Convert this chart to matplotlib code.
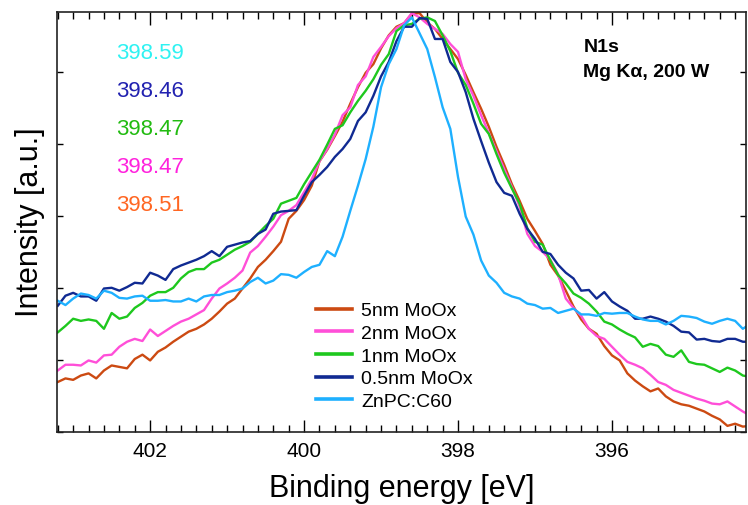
import numpy as np
import matplotlib
matplotlib.use("Agg")
import matplotlib.pyplot as plt
from matplotlib.ticker import MultipleLocator

plt.rcParams["font.family"] = ["Liberation Sans", "DejaVu Sans"]

# ================= DATA =================
# binding energy grid, 403.2 -> 394.2 eV in 0.1 eV steps
energy = np.round(np.arange(403.2, 394.15, -0.1), 2)

moox_5nm = [
    0.69, 0.74, 0.72, 0.78, 0.81, 0.74, 0.85, 0.92, 0.90, 0.88,
    1.01, 1.07, 0.99, 1.11, 1.17, 1.25, 1.32, 1.39, 1.43, 1.49,
    1.57, 1.67, 1.78, 1.85, 1.99, 2.13, 2.29, 2.39, 2.51, 2.64,
    2.96, 3.07, 3.22, 3.42, 3.76, 3.92, 4.11, 4.31, 4.56, 4.79,
    4.99, 5.11, 5.33, 5.51, 5.63, 5.68, 5.81, 5.82, 5.69, 5.60,
    5.46, 5.32, 5.18, 4.96, 4.72, 4.49, 4.24, 3.96, 3.71, 3.44,
    3.21, 2.96, 2.79, 2.61, 2.32, 2.17, 1.96, 1.74, 1.56, 1.43,
    1.36, 1.19, 1.06, 0.99, 0.81, 0.71, 0.63, 0.56, 0.60, 0.49,
    0.42, 0.38, 0.36, 0.32, 0.28, 0.22, 0.17, 0.08, 0.11, 0.07,
    0.08,
]

moox_2nm = [
    0.85, 0.93, 0.93, 0.92, 0.99, 0.96, 1.06, 1.07, 1.18, 1.25,
    1.29, 1.26, 1.42, 1.33, 1.40, 1.47, 1.53, 1.57, 1.63, 1.69,
    1.85, 1.99, 2.06, 2.14, 2.24, 2.49, 2.58, 2.71, 2.85, 3.01,
    3.07, 3.15, 3.33, 3.51, 3.76, 3.93, 4.13, 4.40, 4.51, 4.82,
    4.94, 5.21, 5.35, 5.50, 5.61, 5.68, 5.82, 5.76, 5.67, 5.60,
    5.53, 5.39, 5.28, 4.90, 4.67, 4.40, 4.15, 3.90, 3.65, 3.40,
    3.13, 2.75, 2.58, 2.50, 2.39, 2.19, 1.85, 1.72, 1.61, 1.43,
    1.33, 1.29, 1.18, 1.07, 0.97, 0.93, 0.88, 0.79, 0.69, 0.65,
    0.58, 0.54, 0.50, 0.46, 0.43, 0.39, 0.38, 0.42, 0.35, 0.28,
    0.22,
]

moox_1nm = [
    1.38, 1.47, 1.57, 1.54, 1.56, 1.54, 1.43, 1.65, 1.57, 1.60,
    1.72, 1.79, 1.89, 1.94, 1.94, 2.00, 2.13, 2.22, 2.26, 2.26,
    2.35, 2.39, 2.46, 2.53, 2.58, 2.64, 2.75, 2.86, 2.96, 3.17,
    3.21, 3.25, 3.44, 3.61, 3.78, 3.99, 4.21, 4.26, 4.44, 4.60,
    4.74, 4.90, 5.10, 5.25, 5.57, 5.65, 5.67, 5.74, 5.76, 5.71,
    5.51, 5.29, 4.99, 4.82, 4.56, 4.28, 4.14, 3.86, 3.60, 3.38,
    3.17, 2.83, 2.64, 2.60, 2.38, 2.18, 2.06, 1.92, 1.86, 1.78,
    1.67, 1.53, 1.49, 1.42, 1.36, 1.31, 1.18, 1.22, 1.19, 1.07,
    1.04, 1.13, 0.97, 0.94, 0.93, 0.88, 0.83, 0.89, 0.85, 0.78,
    0.76,
]

moox_05nm = [
    1.75, 1.89, 1.93, 1.88, 1.88, 1.82, 1.99, 2.00, 1.96, 2.01,
    2.07, 2.06, 2.21, 2.17, 2.11, 2.26, 2.31, 2.35, 2.39, 2.44,
    2.51, 2.44, 2.57, 2.60, 2.63, 2.65, 2.75, 2.81, 3.03, 3.06,
    3.07, 3.08, 3.28, 3.47, 3.57, 3.68, 3.82, 3.93, 4.07, 4.32,
    4.44, 4.67, 4.94, 5.14, 5.43, 5.63, 5.63, 5.75, 5.74, 5.46,
    5.46, 5.14, 5.00, 4.72, 4.35, 4.04, 3.74, 3.47, 3.32, 3.28,
    3.03, 2.82, 2.68, 2.50, 2.47, 2.32, 2.21, 2.13, 1.96, 1.97,
    1.85, 1.94, 1.81, 1.74, 1.68, 1.57, 1.57, 1.60, 1.57, 1.53,
    1.47, 1.39, 1.38, 1.28, 1.29, 1.26, 1.25, 1.29, 1.29, 1.25,
    1.25,
]

znpc_c60 = [
    1.82, 1.76, 1.85, 1.92, 1.90, 1.85, 1.96, 1.93, 1.86, 1.85,
    1.88, 1.89, 1.82, 1.82, 1.83, 1.81, 1.81, 1.85, 1.81, 1.88,
    1.90, 1.90, 1.94, 1.96, 1.99, 2.08, 2.14, 2.06, 2.10, 2.19,
    2.18, 2.14, 2.22, 2.29, 2.32, 2.51, 2.44, 2.71, 3.07, 3.42,
    3.79, 4.24, 4.79, 5.11, 5.32, 5.65, 5.76, 5.54, 5.32, 4.93,
    4.51, 4.21, 3.54, 2.99, 2.74, 2.38, 2.17, 2.07, 1.93, 1.88,
    1.85, 1.78, 1.76, 1.71, 1.72, 1.65, 1.68, 1.71, 1.63, 1.63,
    1.61, 1.65, 1.64, 1.65, 1.65, 1.60, 1.56, 1.54, 1.54, 1.49,
    1.54, 1.61, 1.60, 1.58, 1.53, 1.50, 1.54, 1.57, 1.54, 1.43,
    1.50,
]

labels = ["5nm MoOx", "2nm MoOx", "1nm MoOx", "0.5nm MoOx", "ZnPC:C60"]
line_colors = ["#cc4a12", "#ff4fd8", "#1ec81e", "#102a92", "#1eb0ff"]

# fitted peak positions (eV)
peak_pos = ["398.59", "398.46", "398.47", "398.47", "398.51"]
peak_colors = ["#2ff2f2", "#2222b0", "#22bb11", "#ff22dd", "#ff6622"]

# ================= PLOT =================
fig = plt.figure(figsize=(7.48, 5.06), dpi=100)
ax = fig.add_axes([0.0762, 0.145, 0.921, 0.830])

series = [moox_5nm, moox_2nm, moox_1nm, moox_05nm, znpc_c60]
for ys, lab, col in zip(series, labels, line_colors):
    ax.plot(energy, ys, color=col, lw=1.7, label=lab)

ax.set_xlim(403.21, 394.26)
ax.set_ylim(0, 5.84)

ax.xaxis.set_major_locator(MultipleLocator(2))
ax.xaxis.set_minor_locator(MultipleLocator(0.2))
ax.yaxis.set_major_locator(MultipleLocator(1))
ax.set_yticklabels([])
ax.tick_params(axis="x", which="major", direction="in", length=9, width=1,
               top=True, labelsize=15, pad=7)
ax.tick_params(axis="x", which="minor", direction="in", length=5, width=1,
               top=True)
ax.tick_params(axis="y", which="major", direction="in", length=4, width=1,
               right=True)
for sp in ax.spines.values():
    sp.set_linewidth(1.2)
    sp.set_color("#222222")

ax.set_xlabel("Binding energy [eV]", fontsize=22, labelpad=9)
ax.set_ylabel("Intensity [a.u.]", fontsize=22, labelpad=5)

# peak position labels
for i, (txt, col) in enumerate(zip(peak_pos, peak_colors)):
    ax.text(0.086, 0.902 - i * 0.0905, txt, color=col, fontsize=16,
            transform=ax.transAxes, va="center", ha="left")

ax.text(0.764, 0.918, "N1s", fontsize=14, fontweight="bold",
        transform=ax.transAxes, va="center")
ax.text(0.764, 0.858, "Mg K\u03b1, 200 W", fontsize=14, fontweight="bold",
        transform=ax.transAxes, va="center")

leg = ax.legend(loc="lower left", bbox_to_anchor=(0.364, 0.033), frameon=False,
                fontsize=14, handlelength=1.9, handletextpad=0.45,
                labelspacing=0.26, borderaxespad=0)
for h in leg.get_lines():
    h.set_linewidth(2.6)

plt.savefig("out.png", dpi=100)
plt.close()
